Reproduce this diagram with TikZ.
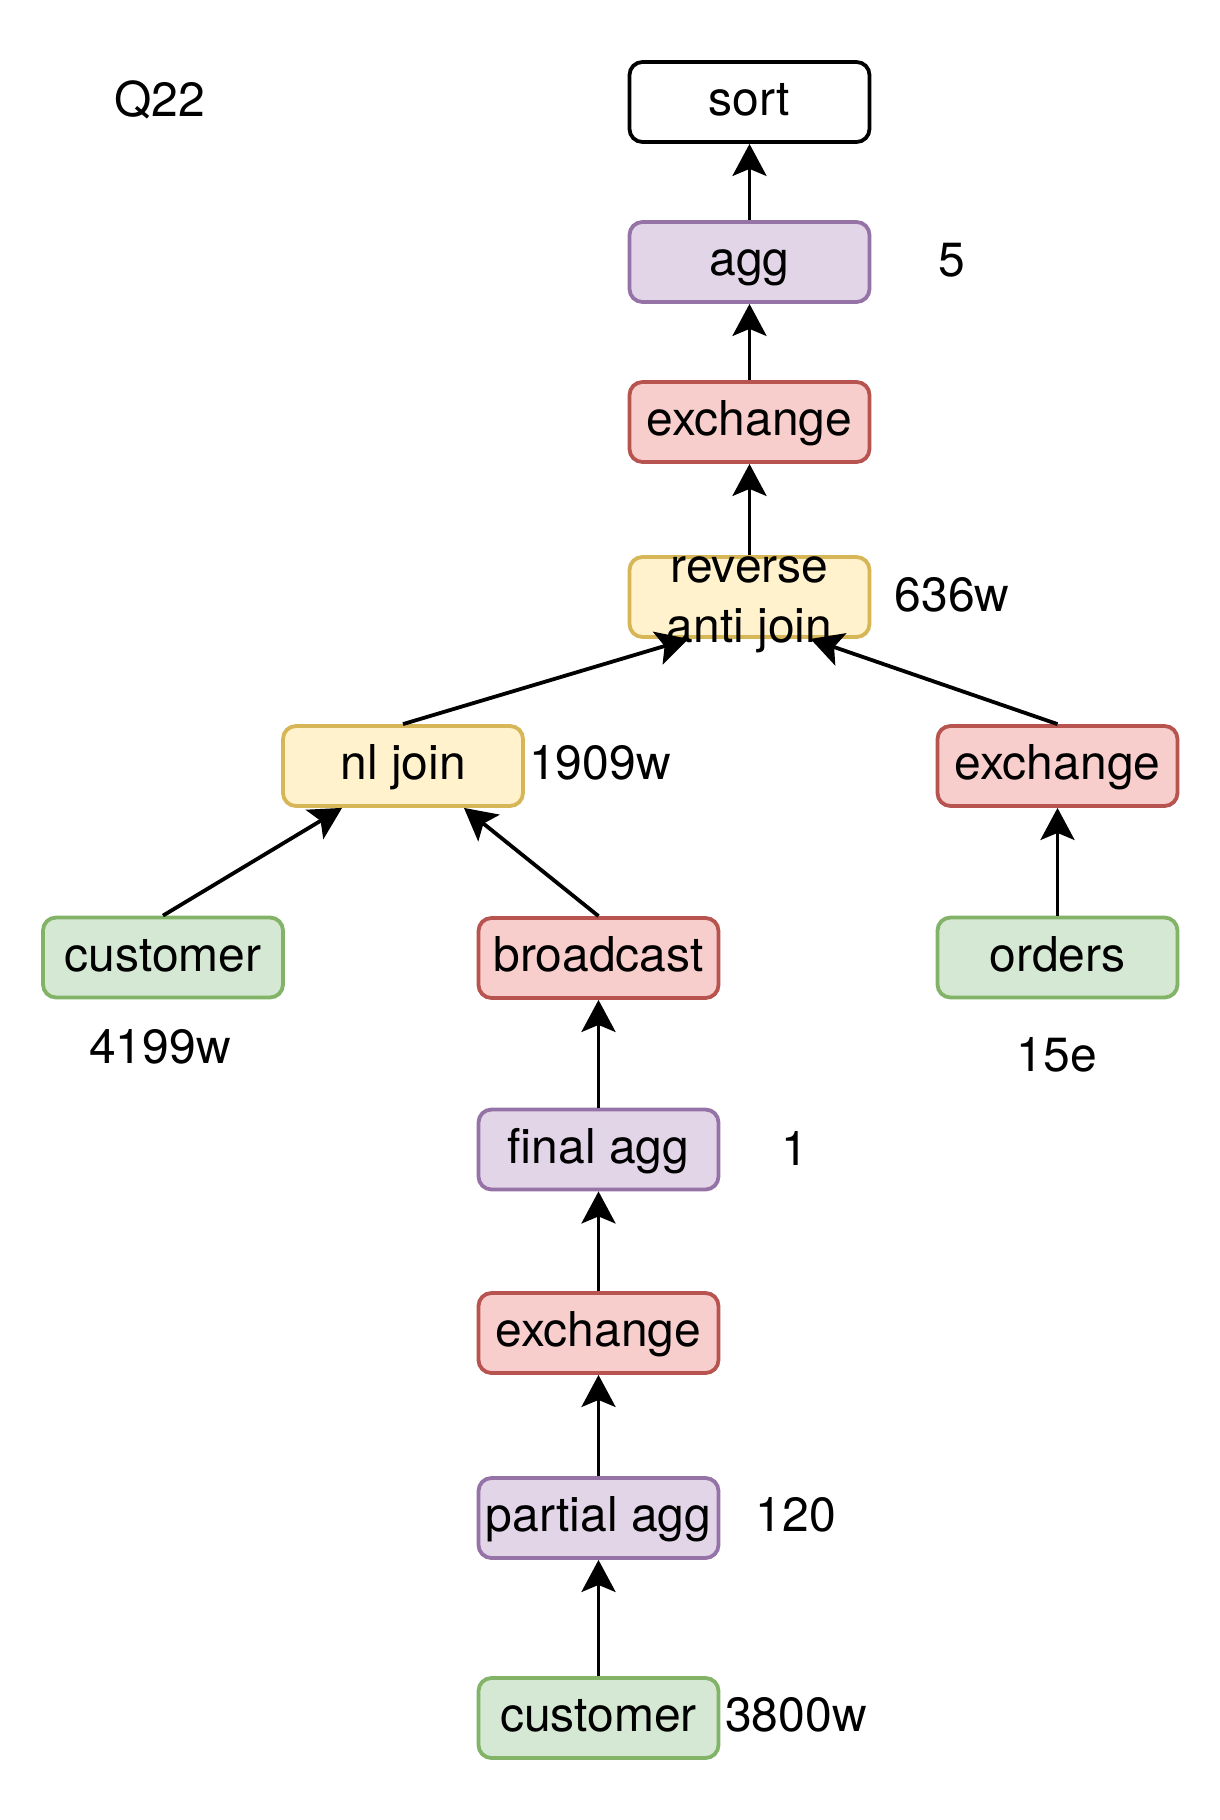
\documentclass[tikz,border=0pt]{standalone}
\usepackage{fontspec}
\setmainfont{TeX Gyre Heros}
\usetikzlibrary{arrows.meta,calc}
\definecolor{purF}{HTML}{E1D5E7}\definecolor{purD}{HTML}{9673A6}
\definecolor{redF}{HTML}{F8CECC}\definecolor{redD}{HTML}{B85450}
\definecolor{yelF}{HTML}{FFF2CC}\definecolor{yelD}{HTML}{D6B656}
\definecolor{grnF}{HTML}{D5E8D4}\definecolor{grnD}{HTML}{82B366}
\begin{document}
\begin{tikzpicture}[x=0.5pt,y=-0.5pt,
  box/.style={rectangle, rounded corners=6.5pt, minimum width=120pt, minimum height=40pt,
    inner sep=0pt, line width=1.9pt, font=\fontsize{24}{30}\selectfont, text=black,
    text height=18pt, text depth=4.5pt},
  plain/.style={box, draw=black, fill=white},
  purbox/.style={box, draw=purD, fill=purF},
  redbox/.style={box, draw=redD, fill=redF},
  yelbox/.style={box, draw=yelD, fill=yelF},
  grnbox/.style={box, draw=grnD, fill=grnF},
  lab/.style={font=\fontsize{24}{30}\selectfont, inner sep=0pt, align=center},
  flow/.style={line width=1.9pt, -{Stealth[length=16pt,width=17pt,inset=3.5pt]}}]
\useasboundingbox[fill=white] (0,0) rectangle (1220,1820);

% nodes
\node[plain]  (sort) at (749.5,102) {sort};
\node[purbox] (agg)  at (749.5,262) {agg};
\node[redbox] (ex1)  at (749.5,422) {exchange};
\node[yelbox] (rev)  at (749.5,597) {};
\node[lab]    (revt) at (749.5,605) {reverse\\anti join};
\node[yelbox] (nl)   at (403,766) {nl join};
\node[redbox] (ex2)  at (1057.5,766) {exchange};
\node[grnbox] (cust1) at (163,957.5) {customer};
\node[redbox] (bc)   at (598.5,958) {broadcast};
\node[grnbox] (ord)  at (1057.5,957.5) {orders};
\node[purbox] (fagg) at (598.5,1149.5) {final agg};
\node[redbox] (ex3)  at (598.5,1333) {exchange};
\node[purbox] (pagg) at (598.5,1518) {partial agg};
\node[grnbox] (cust2) at (598.5,1718) {customer};

% labels
\node[lab] (q)    at (160,100) {Q22};
\node[lab] (l5)   at (952,260) {5};
\node[lab] (l636) at (952,595) {636w};
\node[lab] (l1909) at (600,763) {1909w};
\node[lab] (l4199) at (160,1047) {4199w};
\node[lab] (l15)  at (1057,1055) {15e};
\node[lab] (l1)   at (795,1148) {1};
\node[lab] (l120) at (796,1515) {120};
\node[lab] (l3800) at (796,1715) {3800w};

% entry points
\coordinate (revL) at ($(rev.south west)!0.25!(rev.south east)$);
\coordinate (revR) at ($(rev.south west)!0.75!(rev.south east)$);
\coordinate (nlL) at ($(nl.south west)!0.25!(nl.south east)$);
\coordinate (nlR) at ($(nl.south west)!0.75!(nl.south east)$);

% edges
\draw[flow] (agg.north) -- (sort.south);
\draw[flow] (ex1.north) -- (agg.south);
\draw[flow] (rev.north) -- (ex1.south);
\draw[flow] (nl.north) -- (revL);
\draw[flow] (ex2.north) -- (revR);
\draw[flow] (cust1.north) -- (nlL);
\draw[flow] (bc.north) -- (nlR);
\draw[flow] (ord.north) -- (ex2.south);
\draw[flow] (fagg.north) -- (bc.south);
\draw[flow] (ex3.north) -- (fagg.south);
\draw[flow] (pagg.north) -- (ex3.south);
\draw[flow] (cust2.north) -- (pagg.south);
\end{tikzpicture}
\end{document}
